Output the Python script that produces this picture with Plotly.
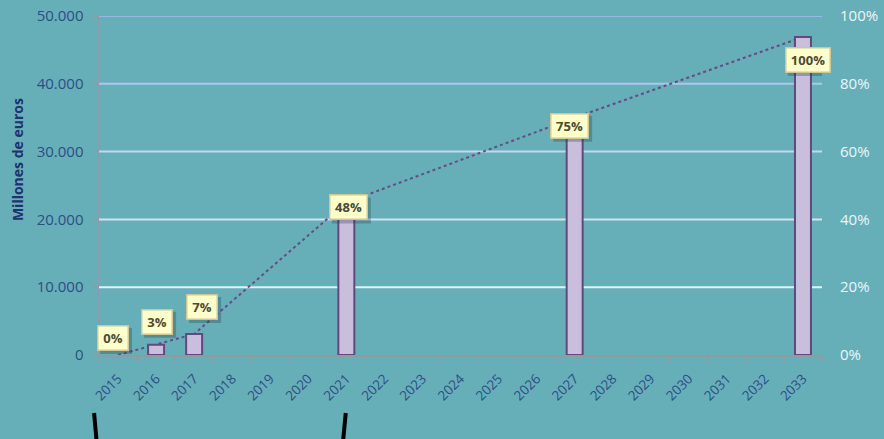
import plotly.graph_objects as go

# ---- data ----
years = [str(y) for y in range(2015, 2034)]
bar_years = ["2015", "2016", "2017", "2021", "2027", "2033"]
bar_values = [0, 1500, 3100, 22500, 35000, 46900]          # millones de euros (cumulative)
pct_labels = ["0%", "3%", "7%", "48%", "75%", "100%"]
pct_values = [0.0, 0.03, 0.07, 0.48, 0.75, 1.0]
left_ticks = [0, 10000, 20000, 30000, 40000, 50000]
left_ticktext = ["0", "10.000", "20.000", "30.000", "40.000", "50.000"]
right_ticks = [0, 0.2, 0.4, 0.6, 0.8, 1.0]
right_ticktext = ["0%", "20%", "40%", "60%", "80%", "100%"]

# ---- styling ----
BG = "#67AFB8"
grid_colors = {10000: "#E6F0F8", 20000: "#D2E4F4", 30000: "#C2D8F0",
               40000: "#AEC6EE", 50000: "#9EB4EA"}
label_shift = [(-5, 17), (1, 23), (8, 27), (2, -5), (-5, -8), (5, -23)]
FONT = "Open Sans"
PAD, BW, TH = 4, 1.5, 15

# category positions on a linear axis
idx = list(range(len(years)))
bar_x = [years.index(y) for y in bar_years]
boundaries = [i - 0.5 for i in range(len(years) + 1)]

fig = go.Figure()

fig.add_trace(go.Scatter(
    x=bar_x, y=bar_values, mode="lines",
    line=dict(color="#6A4A86", width=2, dash="dot"),
    hoverinfo="skip", showlegend=False, xaxis="x", yaxis="y"))

fig.add_trace(go.Scatter(
    x=bar_x, y=pct_values, mode="markers",
    marker=dict(size=1, opacity=0), hoverinfo="skip",
    showlegend=False, xaxis="x", yaxis="y2"))

fig.add_trace(go.Bar(
    x=bar_x, y=[v if v > 0 else None for v in bar_values],
    width=0.42,
    marker=dict(color="#C9BEDB", line=dict(color="#62487F", width=2)),
    hoverinfo="skip", showlegend=False, xaxis="x", yaxis="y3"))

for t in left_ticks[1:]:
    fig.add_shape(type="line", xref="paper", yref="y", x0=0, x1=1,
                  y0=t, y1=t, layer="below",
                  line=dict(color=grid_colors[t], width=2))
fig.add_shape(type="line", xref="paper", yref="paper",
              x0=-0.0068, y0=-0.171, x1=-0.0030, y1=-0.262,
              line=dict(color="black", width=4))
fig.add_shape(type="line", xref="paper", yref="paper",
              x0=0.3413, y0=-0.171, x1=0.3372, y1=-0.262,
              line=dict(color="black", width=4))

for xi, v, txt, (dx, dy) in zip(bar_x, bar_values, pct_labels, label_shift):
    tw = 7 * len(txt) + 7
    W = tw + 2 * PAD + 2 * BW
    H = TH + 2 * PAD + 2 * BW
    # drop shadow
    fig.add_shape(type="rect", xref="x", yref="y",
                  xsizemode="pixel", ysizemode="pixel",
                  xanchor=xi, yanchor=v,
                  x0=dx - W / 2 + 3, x1=dx + W / 2 + 3,
                  y0=dy - H / 2 - 3, y1=dy + H / 2 - 3,
                  fillcolor="rgba(30,60,70,0.30)", line=dict(width=0))
    fig.add_annotation(x=xi, y=v, xref="x", yref="y", text="<b>" + txt + "</b>",
                       showarrow=False, xshift=dx, yshift=dy,
                       width=tw, height=TH, align="center", valign="middle",
                       font=dict(family=FONT, size=13, color="#4A4A32"),
                       bgcolor="#FFFFCC", borderpad=PAD,
                       borderwidth=BW, bordercolor="#CFC596")

fig.add_annotation(text="<b>Millones de euros</b>", xref="paper", yref="paper",
                   x=-0.1134, y=0.575, xanchor="center", yanchor="middle",
                   textangle=-90, showarrow=False,
                   font=dict(family=FONT, size=14, color="#1F336E"))

fig.update_layout(
    width=884, height=439,
    margin=dict(l=99, r=62, t=16, b=84, autoexpand=False),
    paper_bgcolor=BG, plot_bgcolor=BG,
    showlegend=False, hovermode=False,
    xaxis=dict(range=[-0.5, len(years) - 0.5], automargin=False,
               tickmode="array", tickvals=idx, ticktext=years,
               tickangle=-45, ticks="", ticklabelstandoff=9,
               minor=dict(tickmode="array", tickvals=boundaries, ticks="outside",
                          ticklen=5, tickcolor="#8A9CA4", tickwidth=1.5,
                          showgrid=False),
               showline=True, linecolor="#8A9CA4", linewidth=1.5,
               showgrid=False, zeroline=False,
               tickfont=dict(family=FONT, size=13.5, color="#2C4E86")),
    yaxis=dict(range=[0, 50000], tickmode="array", tickvals=left_ticks,
               ticktext=left_ticktext, ticks="outside", ticklen=5,
               tickcolor="#8A9CA4", tickwidth=1.5, automargin=False,
               ticklabelstandoff=6, ticklabeloverflow="allow",
               showline=True, linecolor="#8A9CA4", linewidth=1.5,
               showgrid=False, zeroline=False,
               tickfont=dict(family=FONT, size=15, color="#2C4E86")),
    yaxis2=dict(range=[0, 1], overlaying="y", side="right",
                tickmode="array", tickvals=right_ticks, ticktext=right_ticktext,
                showgrid=False, zeroline=False, showline=False,
                ticks="outside", ticklen=14, tickcolor="rgba(0,0,0,0)",
                automargin=False, ticklabeloverflow="allow",
                tickfont=dict(family=FONT, size=15, color="#EEF4F8")),
    yaxis3=dict(range=[0, 50000], overlaying="y", visible=False),
)

fig.write_html("out.html",
               config={"displayModeBar": False, "staticPlot": True},
               post_script="document.body.style.margin='0';"
                           "document.body.style.background='%s';" % BG)
